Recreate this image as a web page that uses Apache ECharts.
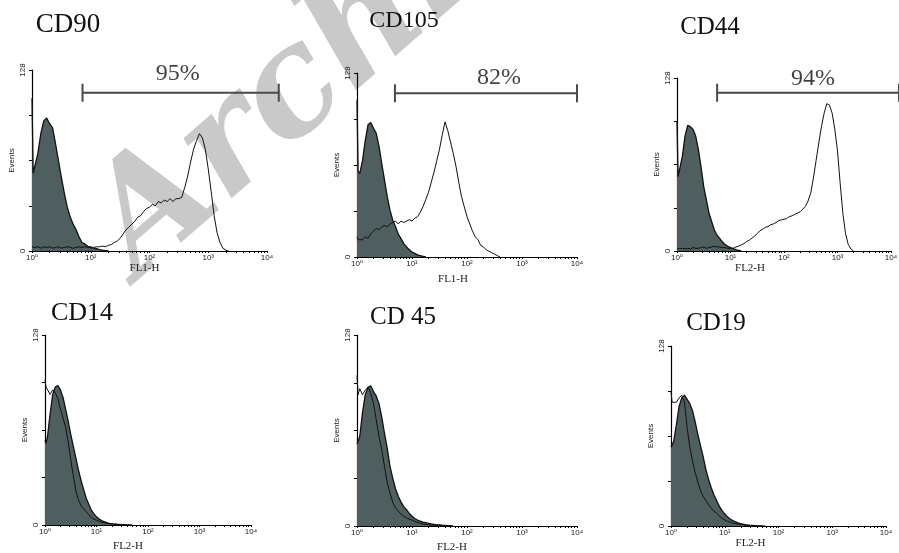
<!DOCTYPE html>
<html><head><meta charset="utf-8">
<script src="https://cdn.jsdelivr.net/npm/echarts@6/dist/echarts.min.js"></script>
<style>html,body{margin:0;padding:0;background:#fff}#c{width:899px;height:553px}</style>
</head><body><div id="c"></div>
<script>
// ---- shared x positions (log10 of fluorescence channel) ----
const xLog = [0,0.02,0.05,0.1,0.15,0.2,0.25,0.3,0.35,0.4,0.45,0.5,0.55,0.6,0.65,0.7,0.75,0.8,0.85,0.9,0.95,1,1.05,1.1,1.15,1.2,1.25,1.3,1.35,1.4,1.45,1.5,1.55,1.6,1.65,1.7,1.75,1.8,1.85,1.9,1.95,2,2.05,2.1,2.15,2.2,2.25,2.3,2.35,2.4,2.45,2.5,2.55,2.6,2.65,2.7,2.75,2.8,2.85,2.9,2.95,3,3.05,3.1,3.15,3.2,3.25,3.3,3.35,3.4];
const xLabelExp = [0,1,2,3,4];
const xLabelText = ['10\u2070','10\u00b9','10\u00b2','10\u00b3','10\u2074'];
const xTickChannels = [1,2,3,4,5,6,7,8,9,10,20,30,40,50,60,70,80,90,100,200,300,400,500,600,700,800,900,1000,2000,3000,4000,5000,6000,7000,8000,9000,10000];
const yTickValues = [0,32,64,96,128];
const yLabelValues = [0,128];

const panelTitles = ['CD90','CD105','CD44','CD14','CD 45','CD19'];
const xAxisNames = ['FL1-H','FL1-H','FL2-H','FL2-H','FL2-H','FL2-H'];
const yAxisName = 'Events';

// ---- histogram counts (filled = control, line = marker) ----
const cd90Ctrl = [108,55,56,69,83,92,94,90,87,76,64,52,41,31,24,19,15,10,6,5,3.3,2.4,2,1.6,1,0.6,0.3,0];
const cd90Mark = [3,3,2.5,3,2,3,2.5,3,2,2.5,3,2,2.5,3,2.5,2,2.5,3,2.5,3,2.5,3,2.5,3,3,3.5,3,4,4.5,6,7,9,12,15,17,19,21,24,25,28,30,31,33,32,35,34,36,35,37,35,37,37,38,45,53,63,72,78,83,80,72,58,42,25,13,6,2,0.5,0];
const cd105Ctrl = [109,60,58,67,81,92,93.5,89.6,86,77,65,53.5,42,32.6,25.6,21,16,12.8,9.3,7,5,3.5,2.5,1.5,1,0.5,0];
const cd105Mark = [14,12,11,12,14,13,16,18,20,19,21,22,21,23,24,25,23,25,24,25,26,25,27,28,31,35,40,45,52,59,67,75,85,94,88,80,72,63,52,42,35,28,23,18,14,12,8,7,5,4,3,2,1,0];
const cd44Ctrl = [96,55,56,70,85,93,92,90,85,75,62,47.5,37.6,27.7,21.5,15.4,11.6,9.2,6.7,4.7,3.5,2.5,1.8,1,0.5,0];
const cd44Mark = [2,1.5,1.5,2,1.5,2,1.5,2.5,2,2,2.5,3,2,2.5,3,3.5,3,3,2.5,2.5,2,2,2,3,3.5,4.5,5.5,7,8,9.5,11,13,15,16,17.5,18,19.5,20,21,22.5,23,23.5,24,25.5,26,27,28,29,31,33,37,43,54,67,80,92,102,109,108,102,90,74,50,28,13,5,1.5,0];
const cd14Ctrl = [57,55,60,75,88,93,94,91,86,78,70,61,53,45,37,30,24,18,14,10,7.5,5.5,4,3,2.2,1.6,1.1,0.8,0.6,0.4,0.3,0.2,0];
const cd14Mark = [98,93,93,88,91,89,85,78,72,66,56,44,33,23,17,13,11,9,7,5,4,3.2,2.5,2,1.5,1.1,0.9,0.7,0.6,0.5,0.4,0.4,0.3,0.3,0.2,0];
const cd45Ctrl = [55,54,60,76,88,93,94,90,87,82,73,62,52,40,32,25,20,16,13,11,8.5,6.5,5,4,3.2,2.6,2.2,1.8,1.4,1.1,0.8,0.7,0.5,0.4,0.3,0.2,0];
const cd45Mark = [101,88,92,88,91,93,89,82,71,60,51,40,29,22,16,12,10,8,6.5,5.5,4.5,4,3,2.4,1.8,1.3,1,0.8,0.6,0.5,0.4,0.3,0.3,0.2,0];
const cd19Ctrl = [56,55,60,72,85,91,93,90,87,82,74,65,57,49,40,33,27,22,18,14,11,8.5,6.5,5,3.8,3,2.2,1.6,1.2,0.8,0.5,0.3,0.2,0];
const cd19Mark = [96,88,89,88,91,93,88,70,56,46,38,31,25,21,18,15,12.5,10.5,9,7,5.5,4.3,3.4,2.7,2.1,1.6,1.3,1,0.8,0.7,0.6,0.5,0.4,0.3,0.3,0.2,0];

// ---- positive gates (upper row) ----
const gateStart = [0.86, 0.69, 0.75];
const gateEnd = [4.2, 4.0, 4.15];
const gateLevel = [112, 114, 117];
const gateText = ['95%', '82%', '94%'];
const gateTextX = [2.48, 2.58, 2.54];

const ctrlSets = [cd90Ctrl, cd105Ctrl, cd44Ctrl, cd14Ctrl, cd45Ctrl, cd19Ctrl];
const markSets = [cd90Mark, cd105Mark, cd44Mark, cd14Mark, cd45Mark, cd19Mark];

// ---- layout (pixels) ----
const layout = [
  {left:32, top:70, w:235, h:181, nameGap:12, nameShift:10, title:[68,25,27], pctDist:7},
  {left:357, top:73, w:220, h:184, nameGap:17, nameShift:28, title:[404,21,24], pctDist:3},
  {left:677, top:78, w:214, h:173, nameGap:8, nameShift:68, title:[710,27,25], pctDist:2},
  {left:45, top:335, w:206, h:190, nameGap:16, nameShift:40, title:[82,313,26]},
  {left:357, top:335, w:220, h:191, nameGap:16, nameShift:30, title:[403,317,25]},
  {left:671, top:346, w:215, h:180, nameGap:7, nameShift:56, title:[716,323,25]}
];

const SERIF = '"Liberation Serif","DejaVu Serif",serif';
const SANS = '"Liberation Sans","DejaVu Sans",sans-serif';
const tickPos = xTickChannels.map(v => Math.log10(v));

const grid = [], xAxis = [], yAxis = [], series = [], graphic = [];

graphic.push({
  type: 'text', x: 162, y: 306, rotation: 41 * Math.PI / 180, z: 0, silent: true,
  style: { text: 'Archive', font: 'italic bold 148px "DejaVu Serif"', fill: '#c9c9c9', align: 'left', verticalAlign: 'bottom' }
});

function gateItem(params, api) {
  const a = api.coord([api.value(0), api.value(2)]);
  const b = api.coord([api.value(1), api.value(2)]);
  const h = 9;
  return {
    type: 'polyline',
    shape: { points: [[a[0], a[1] - h], [a[0], a[1] + h], [a[0], a[1]], [b[0], b[1]], [b[0], b[1] - h], [b[0], b[1] + h]] },
    style: { stroke: '#4a4a4a', lineWidth: 2, fill: null }
  };
}

layout.forEach((p, i) => {
  grid.push({ left: p.left, top: p.top, width: p.w, height: p.h, containLabel: false, outerBoundsMode: 'none' });
  xAxis.push({
    gridIndex: i, type: 'value', min: 0, max: 4, interval: 1,
    axisLine: { show: true, onZero: false, lineStyle: { color: '#000', width: 1 } },
    axisTick: { show: true, length: 2, customValues: tickPos, lineStyle: { color: '#000', width: 1 } },
    axisLabel: { show: true, customValues: xLabelExp, margin: 3, fontSize: 8, color: '#222', fontFamily: SANS,
      formatter: v => xLabelText[Math.round(v)] },
    splitLine: { show: false },
    name: xAxisNames[i], nameLocation: 'middle', nameGap: p.nameGap,
    nameTextStyle: { fontFamily: SERIF, fontSize: 11, color: '#222', padding: [0, p.nameShift, 0, 0] }
  });
  yAxis.push({
    gridIndex: i, type: 'value', min: 0, max: 128, interval: 32,
    axisLine: { show: true, lineStyle: { color: '#000', width: 1.2 } },
    axisTick: { show: true, length: 3, customValues: yTickValues, lineStyle: { color: '#000' } },
    axisLabel: { show: true, customValues: yLabelValues, rotate: 90, margin: 5, fontSize: 8, color: '#222', fontFamily: SANS },
    splitLine: { show: false },
    name: yAxisName, nameLocation: 'middle', nameRotate: 90, nameGap: 16,
    nameTextStyle: { fontFamily: SANS, fontSize: 8, color: '#222' }
  });
  series.push({
    type: 'line', xAxisIndex: i, yAxisIndex: i, z: 2, silent: true, showSymbol: false, symbol: 'none',
    data: ctrlSets[i].map((v, k) => [xLog[k], v]),
    lineStyle: { color: '#111', width: 1.3 },
    areaStyle: { color: '#4f5f5f', opacity: 1 }
  });
  series.push({
    type: 'line', xAxisIndex: i, yAxisIndex: i, z: 3, silent: true, showSymbol: false, symbol: 'none',
    data: markSets[i].map((v, k) => [xLog[k], v]),
    lineStyle: { color: '#111', width: 1 }
  });
  if (i < 3) {
    series.push({
      type: 'custom', xAxisIndex: i, yAxisIndex: i, z: 4, silent: true, clip: false,
      renderItem: gateItem,
      data: [[gateStart[i], gateEnd[i], gateLevel[i]]]
    });
    series.push({
      type: 'scatter', xAxisIndex: i, yAxisIndex: i, z: 5, silent: true, symbolSize: 0, clip: false,
      data: [[gateTextX[i], gateLevel[i]]],
      label: { show: true, position: 'top', distance: p.pctDist, formatter: gateText[i],
        fontFamily: SERIF, fontSize: 24, color: '#111' }
    });
  }
  graphic.push({
    type: 'text', x: p.title[0], y: p.title[1], z: 10, silent: true,
    style: { text: panelTitles[i], font: p.title[2] + 'px ' + SERIF, fill: '#111', align: 'center', verticalAlign: 'middle' }
  });
});

const chart = echarts.init(document.getElementById('c'), null, { renderer: 'canvas' });
chart.setOption({ animation: false, backgroundColor: '#fff', tooltip: { show: false }, grid, xAxis, yAxis, series, graphic });
</script>
</body></html>
